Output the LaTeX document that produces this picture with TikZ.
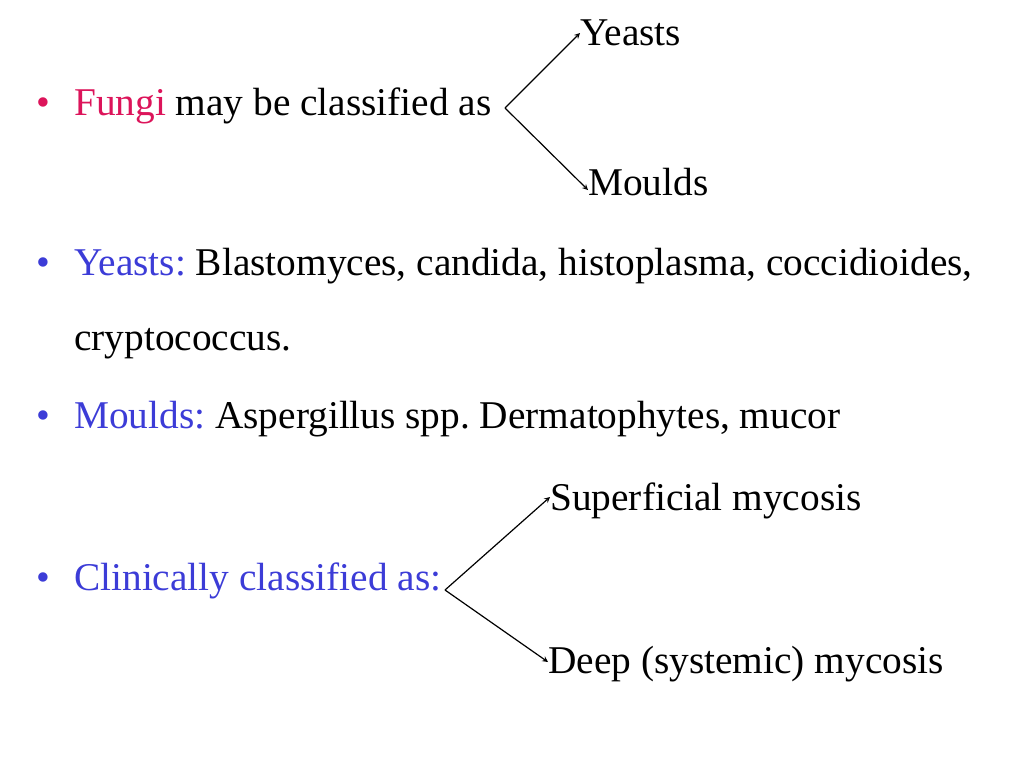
\documentclass[tikz,border=0pt]{standalone}
\usepackage{fontspec}
\setmainfont{Liberation Serif}
\usetikzlibrary{positioning}
\definecolor{fungired}{RGB}{220,20,90}
\definecolor{headblue}{RGB}{60,60,215}
\tikzset{
  txt/.style={anchor=base west, inner sep=0pt, font=\fontsize{29.5}{34}\selectfont},
  bul/.style={anchor=base west, inner sep=0pt, font=\fontsize{29.5}{34}\selectfont, text=headblue},
  branch/.style={-stealth, line width=0.9pt}
}
\begin{document}
\begin{tikzpicture}[x=0.75pt, y=-0.75pt]
    \useasboundingbox (0,0) rectangle (1024,768);

    % Fungi
    \node[bul, text=fungired] (b1) at (36,115) {\textbullet};
    \node[txt] (l1) at (74,115) {\textcolor{fungired}{Fungi} may be classified as};
    \coordinate (s1) at (505,108);
    \node[txt] (yeasts) at (580,45) {Yeasts};
    \node[txt] (moulds) at (588,195) {Moulds};
    \draw[branch] (s1) -- (yeasts.base west |- 0,33);
    \draw[branch] (s1) -- (moulds.base west |- 0,190);

    % Groups
    \node[bul] (b2) at (36,275) {\textbullet};
    \node[txt] (l2) at (74,275) {\textcolor{headblue}{Yeasts:}\ Blastomyces, candida, histoplasma, coccidioides,};
    \node[txt] (l2b) at (74,350) {cryptococcus.};
    \node[bul] (b3) at (36,428) {\textbullet};
    \node[txt] (l3) at (74,428) {\textcolor{headblue}{Moulds:}\ Aspergillus spp.\ Dermatophytes, mucor};

    % Clinical
    \node[bul] (b4) at (36,590) {\textbullet};
    \node[txt, text=headblue] (l4) at (74,590) {Clinically classified as:};
    \coordinate (s2) at (445,590);
    \node[txt] (sup) at (550,510) {Superficial mycosis};
    \node[txt] (deep) at (548,673) {Deep (systemic) mycosis};
    \draw[branch] (s2) -- (sup.base west |- 0,497);
    \draw[branch] (s2) -- (deep.base west |- 0,662);
\end{tikzpicture}
\end{document}
